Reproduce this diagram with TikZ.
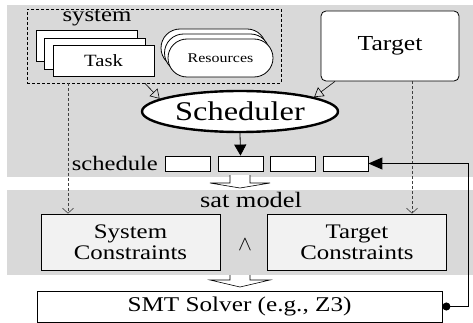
\documentclass[tikz,border=0pt]{standalone}
\usepackage{fontspec}
\setmainfont{Liberation Serif}[FakeStretch=1.2]
\usetikzlibrary{arrows.meta,shapes.geometric,shapes.misc,calc}
\newcommand\myfs[1]{\fontsize{#1}{#1}\selectfont}
\definecolor{bggray}{RGB}{217,217,217}
\definecolor{boxgray}{RGB}{242,242,242}
\begin{document}
\begin{tikzpicture}[x=1pt,y=-1pt,
  box/.style={draw,line width=0.8pt,inner sep=0pt},
  resbox/.style={draw,fill=white,rounded rectangle,minimum width=105pt,minimum height=38pt,line width=0.8pt,inner sep=0pt},
  taskbox/.style={box,fill=white,minimum width=101pt,minimum height=31pt},
  sbox/.style={box,fill=white,minimum width=45pt,minimum height=15pt},
  cbox/.style={box,fill=boxgray,minimum width=179pt,minimum height=56pt,align=center,font=\myfs{20.7}},
  openarr/.style={-{Triangle[open,length=9pt,width=11pt]},line width=0.6pt},
  dasharr/.style={dash pattern=on 3pt off 2pt,-{Straight Barb[length=5pt,width=11pt]},line width=0.6pt,black!75},
  blockarr/.style={line width=0.6pt}]
\useasboundingbox (0,0) rectangle (473,323);
\fill[bggray] (7,5) rectangle (473,177);
\fill[bggray] (7,190) rectangle (473,275);

% system group
\node[box,dash pattern=on 3pt off 2pt,minimum width=254pt,minimum height=74pt] (sys) at (154,46) {};
\node[font=\myfs{20.7},inner sep=0pt] (syslbl) at (97,18) {system};
\node[taskbox] (t1) at (86.5,45.5) {};
\node[taskbox] (t2) at (95,53.5) {};
\node[taskbox,font=\myfs{17.2}] (task) at (103.5,61) {Task};
\node[resbox] (r1) at (213.5,48) {};
\node[resbox] (r2) at (217,53) {};
\node[resbox,font=\myfs{13.3}] (res) at (220.5,58) {Resources};

% target
\node[box,rounded corners=5pt,fill=white,minimum width=138pt,minimum height=70pt,font=\myfs{21.4}] (target) at (390,46) {Target};

% scheduler
\node[draw,ellipse,line width=2.4pt,fill=white,minimum width=196pt,minimum height=41pt,inner sep=0pt,font=\myfs{27}] (sched) at (240,111.5) {Scheduler};
\draw[openarr] ([xshift=-9pt]sys.south) -- (sched.171);
\draw[openarr] ([xshift=-55pt]target.south) -- (sched.11);

% schedule
\node[sbox] (b1) at (188,163.5) {};
\node[sbox] (b2) at (240.5,163.5) {};
\node[sbox] (b3) at (293,163.5) {};
\node[sbox] (b4) at (345.5,163.5) {};
\node[anchor=east,font=\myfs{20.5},inner sep=0pt] (schlbl) at ([xshift=-7pt]b1.west) {schedule};
\draw[-{Triangle[length=11pt,width=12pt]},line width=0.8pt] (sched.south) -- (b2.north);

% block arrow 1
\fill[white] (230,175) -- (230,183) -- (210,183) -- (240,188) -- (270,183) -- (250,183) -- (250,175) -- cycle;
\draw[blockarr] (230,175) -- (230,183) -- (210,183) -- (240,188) -- (270,183) -- (250,183) -- (250,175);

% sat model
\node[font=\myfs{22},inner sep=0pt] (satlbl) at (251,200) {sat model};
\node[cbox] (sc) at (130.5,242) {System\\Constraints};
\node[cbox] (tc) at (357,242) {Target\\Constraints};
\node[font=\myfs{20},inner sep=0pt] (andsym) at (245,245) {$\wedge$};

\coordinate (xa) at (68,0);
\coordinate (xb) at (412,0);
\draw[dasharr] (sys.south -| xa) -- (sc.north -| xa);
\draw[dasharr] (target.south -| xb) -- (tc.north -| xb);

% block arrow 2
\fill[white] (230,275) -- (230,280) -- (210,280) -- (240,287) -- (270,280) -- (250,280) -- (250,275) -- cycle;
\draw[blockarr] (230,275) -- (230,280) -- (210,280) -- (240,287) -- (270,280) -- (250,280) -- (250,275);

% SMT
\node[box,fill=white,minimum width=405pt,minimum height=31pt,font=\myfs{21}] (smt) at (239.5,306.5) {SMT Solver (e.g., Z3)};
\draw[line width=1pt,{Circle[length=8pt]}-{Triangle[length=14pt,width=12pt]}] (smt.east) -- ++(26,0) |- (b4.east);
\end{tikzpicture}
\end{document}
